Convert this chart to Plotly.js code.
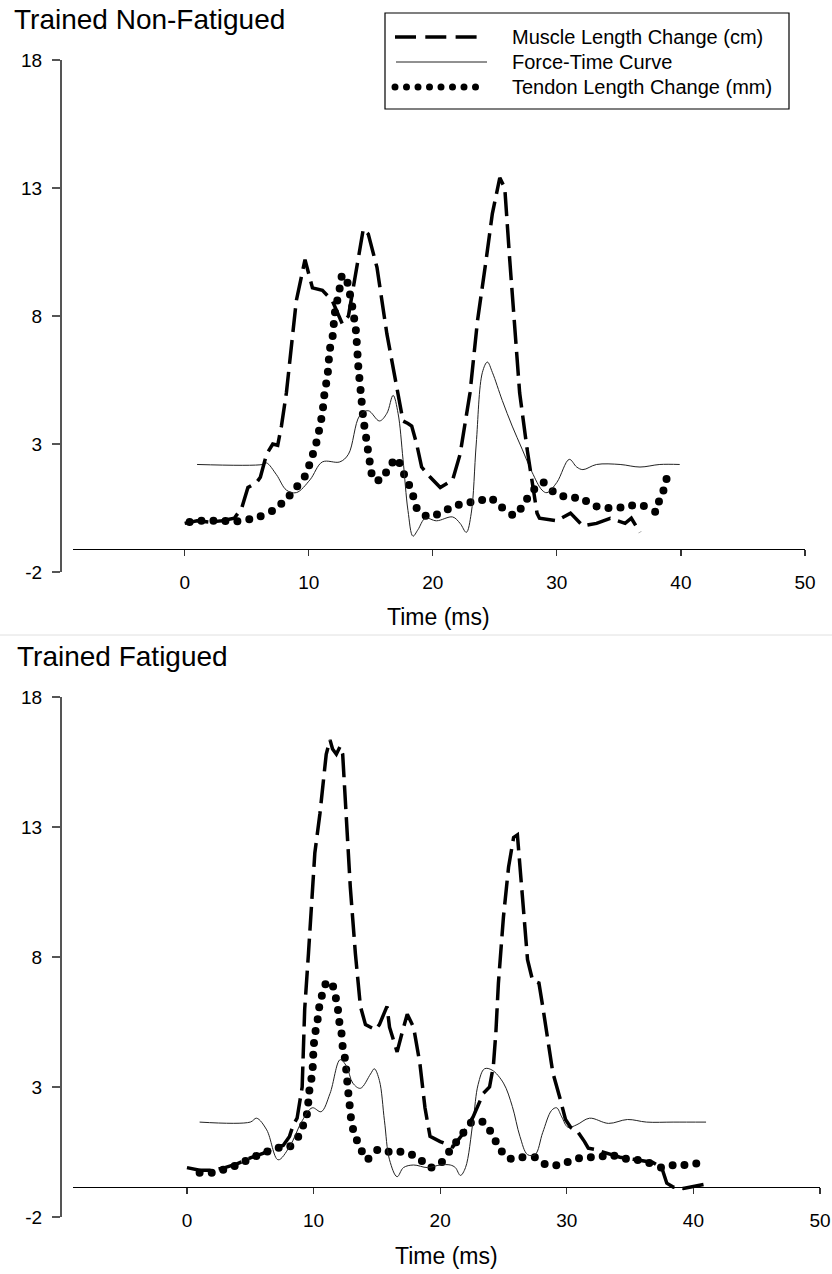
<!DOCTYPE html>
<html>
<head>
<meta charset="utf-8">
<script src="https://cdn.plot.ly/plotly-3.0.1.min.js"></script>
<style>html,body{margin:0;padding:0;background:#fff;}#chart{width:832px;height:1274px;}</style>
</head>
<body>
<div id="chart"></div>
<script>
// ---- Data ----
var xTicks = [0, 10, 20, 30, 40, 50];
var yTicks = [-2, 3, 8, 13, 18];
var seriesNames = ['Muscle Length Change (cm)', 'Force-Time Curve', 'Tendon Length Change (mm)'];
var panelTitles = ['Trained Non-Fatigued', 'Trained Fatigued'];
var xTitle = 'Time (ms)';

// Trained Non-Fatigued
var nfMuscleT = [0, 1, 2, 3, 4, 4.6, 5.1, 5.8, 6.1, 6.6, 7.1, 7.5, 7.8, 8.2, 9.0, 9.7, 10.3, 11.1, 11.9, 12.4, 12.7, 13.2, 13.7, 14.4, 14.8, 15.5, 16.3, 17.1, 17.6, 18.0, 18.3, 18.7, 19.1, 19.8, 20.6, 21.6, 22.2, 23.0, 23.6, 24.3, 24.8, 25.4, 25.8, 26.2, 26.6, 27.0, 27.6, 28.1, 28.4, 28.6, 30.0, 31.1, 32.1, 33.2, 34.3, 35.5, 36.0, 36.7];
var nfMuscleV = [-0.1, 0, -0.05, 0, 0.1, 0.5, 1.3, 1.5, 1.7, 2.6, 3.0, 2.95, 3.7, 5.0, 8.6, 10.2, 9.1, 9.0, 8.6, 8.0, 7.7, 8.0, 9.5, 11.4, 11.2, 9.9, 7.3, 5.1, 3.9, 3.8, 3.7, 3.0, 2.1, 1.7, 1.3, 1.6, 2.6, 5.0, 7.8, 10.2, 12.0, 13.4, 13.0, 10.2, 7.6, 5.0, 2.8, 1.1, 0.3, 0.1, 0.0, 0.3, -0.2, -0.1, 0.1, -0.1, 0.1, -0.45];
var nfForceT = [1, 6.3, 6.6, 7.4, 8.2, 9.0, 10.1, 11.1, 12.5, 13.2, 14.1, 14.8, 15.7, 16.3, 16.8, 17.2, 17.6, 18.0, 18.4, 18.8, 19.4, 20.3, 21.6, 22.2, 22.7, 23.1, 23.5, 24.0, 24.4, 24.8, 25.6, 26.4, 27.2, 28.0, 28.8, 29.2, 30.0, 31.0, 31.6, 32.1, 33.2, 35.1, 36.7, 38.3, 39.9];
var nfForceV = [2.2, 2.2, 2.26, 1.8, 1.2, 1.1, 1.6, 2.3, 2.3, 2.6, 4.1, 4.3, 3.9, 4.2, 4.9, 4.2, 2.4, 0.4, -0.6, -0.35, 0.1, 0.0, 0.15, -0.1, -0.45, 0.3, 3.0, 5.8, 6.2, 5.8, 4.7, 3.7, 2.8, 1.9, 1.2, 1.1, 1.5, 2.4, 2.1, 2.0, 2.2, 2.2, 2.1, 2.2, 2.2];
var nfTendonT = [0.4, 1, 2, 3, 4, 5, 6, 7.1, 8.1, 9.0, 9.7, 10.1, 10.4, 10.7, 10.9, 11.1, 11.3, 11.5, 11.7, 11.9, 12.1, 12.3, 12.5, 12.7, 13.0, 13.3, 13.5, 13.8, 14.0, 14.2, 14.4, 14.7, 15.0, 15.2, 15.9, 16.4, 17.1, 17.6, 18.0, 18.4, 18.7, 19.6, 20.6, 21.6, 22.6, 23.6, 24.6, 25.5, 26.6, 27.4, 27.9, 28.9, 29.8, 30.9, 31.9, 32.9, 34.0, 34.9, 36.0, 36.9, 38.0, 38.3, 38.7, 38.9];
var nfTendonV = [-0.05, 0, 0, 0, -0.03, 0.04, 0.15, 0.4, 0.8, 1.3, 1.75, 2.25, 2.7, 3.2, 3.7, 4.2, 5.1, 5.6, 6.7, 7.1, 8.1, 8.6, 9.1, 9.6, 9.5, 8.9, 8.4, 7.45, 6.0, 5.0, 4.0, 3.0, 2.05, 1.6, 1.6, 2.05, 2.45, 1.9, 1.5, 1.0, 0.5, 0.15, 0.3, 0.55, 0.7, 0.75, 0.9, 0.55, 0.2, 0.7, 1.1, 1.5, 1.1, 0.9, 0.9, 0.6, 0.5, 0.5, 0.6, 0.6, 0.35, 0.9, 1.3, 1.8];

// Trained Fatigued
var fMuscleT = [0, 1, 2, 3, 4, 5, 6, 7.1, 7.6, 8.1, 8.4, 8.7, 9.1, 9.3, 9.6, 9.9, 10.1, 10.5, 10.8, 11.0, 11.3, 11.5, 11.8, 12.1, 12.3, 12.6, 12.9, 13.3, 13.7, 14.1, 14.9, 15.2, 15.8, 16.0, 16.6, 17.0, 17.4, 17.9, 18.4, 18.8, 19.2, 20.0, 20.5, 21.0, 21.8, 22.6, 23.4, 23.9, 24.2, 24.4, 24.6, 25.0, 25.4, 25.8, 26.1, 26.3, 26.6, 26.9, 27.3, 27.8, 28.1, 28.4, 28.9, 29.5, 29.9, 30.3, 30.9, 31.4, 31.7, 32.2, 33.2, 34.2, 35.5, 36.8, 37.5, 37.9, 38.4, 39.2, 40.8];
var fMuscleV = [-0.1, -0.2, -0.2, -0.1, 0.05, 0.27, 0.45, 0.7, 0.75, 1.1, 1.55, 1.8, 3.0, 6.0, 8.15, 10.3, 12.0, 13.5, 14.8, 15.8, 16.35, 16.0, 15.8, 16.1, 15.8, 13.3, 10.7, 8.15, 6.1, 5.4, 5.2, 5.4, 6.1, 5.3, 4.35, 5.1, 5.8, 5.3, 3.9, 2.2, 1.1, 0.9, 0.8, 0.7, 1.2, 1.85, 2.75, 3.0, 3.8, 5.1, 7.0, 9.55, 11.45, 12.6, 12.7, 11.45, 9.55, 7.9, 7.1, 7.0, 6.1, 5.1, 3.55, 2.5, 1.75, 1.45, 1.25, 0.9, 0.65, 0.6, 0.45, 0.3, 0.2, 0.1, -0.1, -0.7, -0.85, -0.9, -0.75];
var fForceT = [1, 5.0, 5.5, 6.3, 7.2, 8.1, 9.1, 9.9, 10.6, 11.3, 12.1, 12.6, 13.1, 13.7, 14.5, 14.8, 15.2, 15.6, 16.0, 16.6, 17.1, 17.9, 19.0, 20.0, 20.8, 21.2, 21.6, 22.0, 22.6, 23.0, 23.5, 24.1, 25.0, 25.7, 26.3, 26.9, 27.5, 28.1, 28.8, 29.2, 29.6, 30.1, 30.8, 31.8, 33.3, 34.8, 36.3, 38.4, 41.0];
var fForceV = [1.65, 1.65, 1.8, 1.35, 0.2, 0.7, 1.7, 2.2, 2.05, 2.75, 4.05, 3.8, 3.15, 2.95, 3.5, 3.7, 3.25, 1.7, 0.2, -0.45, -0.1, 0.0, -0.1, 0.0, 0.0, -0.1, -0.4, -0.1, 1.7, 3.1, 3.7, 3.65, 3.15, 2.25, 1.1, 0.4, 0.4, 1.25, 2.1, 2.2, 1.85, 1.45, 1.55, 1.8, 1.6, 1.75, 1.65, 1.65, 1.65];
var fTendonT = [1.0, 2.0, 3.1, 4.0, 5.1, 6.0, 7.1, 8.1, 8.8, 9.2, 9.5, 9.6, 9.7, 9.9, 10.0, 10.1, 10.3, 10.4, 10.6, 10.8, 11.0, 11.4, 11.7, 11.9, 12.0, 12.2, 12.3, 12.5, 12.6, 12.7, 12.8, 12.9, 13.0, 13.3, 13.7, 14.2, 15.1, 16.0, 17.1, 18.2, 19.2, 20.1, 20.9, 21.7, 22.5, 23.4, 24.1, 24.6, 25.4, 26.4, 27.5, 28.4, 29.5, 30.5, 31.4, 32.5, 33.4, 34.5, 35.5, 36.4, 37.5, 38.5, 39.5, 40.7];
var fTendonV = [-0.3, -0.3, -0.15, 0.0, 0.27, 0.45, 0.65, 0.7, 1.1, 1.55, 2.0, 2.5, 3.0, 3.5, 4.5, 5.0, 5.5, 5.95, 6.4, 6.8, 7.0, 7.05, 6.55, 6.1, 5.6, 5.1, 4.55, 4.05, 3.55, 3.0, 2.5, 2.1, 1.6, 1.1, 0.65, 0.2, 0.6, 0.5, 0.5, 0.3, -0.1, 0.1, 0.65, 1.15, 1.65, 1.65, 1.2, 0.7, 0.25, 0.3, 0.3, 0.0, 0.0, 0.2, 0.3, 0.3, 0.4, 0.25, 0.2, 0.1, -0.1, 0.0, 0.0, 0.1];

// ---- Styling ----
var W = 832, H = 1274;
function fx(px) { return px / W; }
function fy(py) { return 1 - py / H; }
var FONT = 'Liberation Sans, Arial, sans-serif';
var DOT = '0px,12px';
var DASH = '24px,8px';

var muscleLine = {color: '#000', width: 3.5, dash: DASH};
var forceLine = {color: '#222', width: 1, shape: 'spline', smoothing: 1};
var tendonLine = {color: '#000', width: 8, dash: DOT, shape: 'spline', smoothing: 0.5};

function tr(x, y, line, xa, ya, name) {
  return {x: x, y: y, type: 'scatter', mode: 'lines', line: line, xaxis: xa, yaxis: ya, name: name, showlegend: false, hoverinfo: 'skip'};
}

var data = [
  tr(nfTendonT, nfTendonV, tendonLine, 'x', 'y', seriesNames[2]),
  tr(nfForceT, nfForceV, forceLine, 'x', 'y', seriesNames[1]),
  tr(nfMuscleT, nfMuscleV, muscleLine, 'x', 'y', seriesNames[0]),
  tr(fTendonT, fTendonV, tendonLine, 'x2', 'y2', seriesNames[2]),
  tr(fForceT, fForceV, forceLine, 'x2', 'y2', seriesNames[1]),
  tr(fMuscleT, fMuscleV, muscleLine, 'x2', 'y2', seriesNames[0])
];

function xAxis(domain, pos) {
  return {
    domain: domain, anchor: 'free', position: pos,
    range: [-9, 50], tickmode: 'array', tickvals: xTicks, ticktext: xTicks.map(String),
    showline: true, linecolor: '#000', linewidth: 1.3,
    ticks: 'outside', ticklen: 6, tickwidth: 1.2, tickcolor: '#333',
    showgrid: false, zeroline: false, ticklabelstandoff: 10,
    tickfont: {family: FONT, size: 19, color: '#000'}
  };
}
function yAxis(domain) {
  return {
    domain: domain, anchor: 'free', position: fx(60),
    range: [-2, 18], tickmode: 'array', tickvals: yTicks, ticktext: yTicks.map(String),
    showline: true, linecolor: '#555', linewidth: 1.5,
    ticks: 'outside', ticklen: 8, tickwidth: 1.5, tickcolor: '#555',
    showgrid: false, zeroline: false, ticklabelstandoff: 6,
    tickfont: {family: FONT, size: 19, color: '#000'}
  };
}

function ann(text, px, py, size, xanchor) {
  return {text: text, x: fx(px), y: fy(py), xref: 'paper', yref: 'paper', showarrow: false,
    xanchor: xanchor, yanchor: 'middle', font: {family: FONT, size: size, color: '#000'}};
}

var annotations = [
  ann(panelTitles[0], 12, 20, 28, 'left'),
  ann(panelTitles[1], 15, 656, 28, 'left'),
  ann(xTitle, 439, 617, 23, 'center'),
  ann(xTitle, 446.5, 1256, 23, 'center'),
  ann(seriesNames[0], 510, 37, 20, 'left'),
  ann(seriesNames[1], 510, 62, 20, 'left'),
  ann(seriesNames[2], 510, 87, 20, 'left')
];

function seg(px0, px1, py, line) {
  return {type: 'line', xref: 'paper', yref: 'paper', x0: fx(px0), x1: fx(px1), y0: fy(py), y1: fy(py), line: line};
}
var shapes = [
  {type: 'rect', xref: 'paper', yref: 'paper', x0: fx(385), x1: fx(789), y0: fy(109), y1: fy(13), line: {color: '#000', width: 1.2}, fillcolor: 'rgba(0,0,0,0)'},
  seg(395, 478, 37, {color: '#000', width: 3.5, dash: '21px,9.3px'}),
  seg(396, 487, 62, {color: '#222', width: 1}),
  seg(395, 487, 87, {color: '#000', width: 7, dash: '0px,11.5px'}),
  seg(0, 832, 635, {color: '#e0e0e0', width: 1})
];

var layout = {
  width: W, height: H,
  margin: {l: 0, r: 0, t: 0, b: 0, pad: 0},
  paper_bgcolor: '#fff', plot_bgcolor: 'rgba(0,0,0,0)',
  showlegend: false,
  font: {family: FONT, color: '#000'},
  xaxis: xAxis([fx(73), fx(805)], fy(549)),
  yaxis: yAxis([fy(572), fy(60)]),
  xaxis2: xAxis([fx(73), fx(820)], fy(1187)),
  yaxis2: yAxis([fy(1217), fy(697)]),
  annotations: annotations,
  shapes: shapes
};

function roundDots() {
  var paths = document.querySelectorAll('#chart path');
  paths.forEach(function(p) {
    var st = p.getAttribute('style') || '';
    if (/stroke-dasharray:\s*0px/.test(st)) {
      p.style.strokeLinecap = 'round';
    }
  });
}

var gd = document.getElementById('chart');
Plotly.newPlot(gd, data, layout, {staticPlot: true, displayModeBar: false}).then(function() {
  roundDots();
  gd.on('plotly_afterplot', roundDots);
});
</script>
</body>
</html>
